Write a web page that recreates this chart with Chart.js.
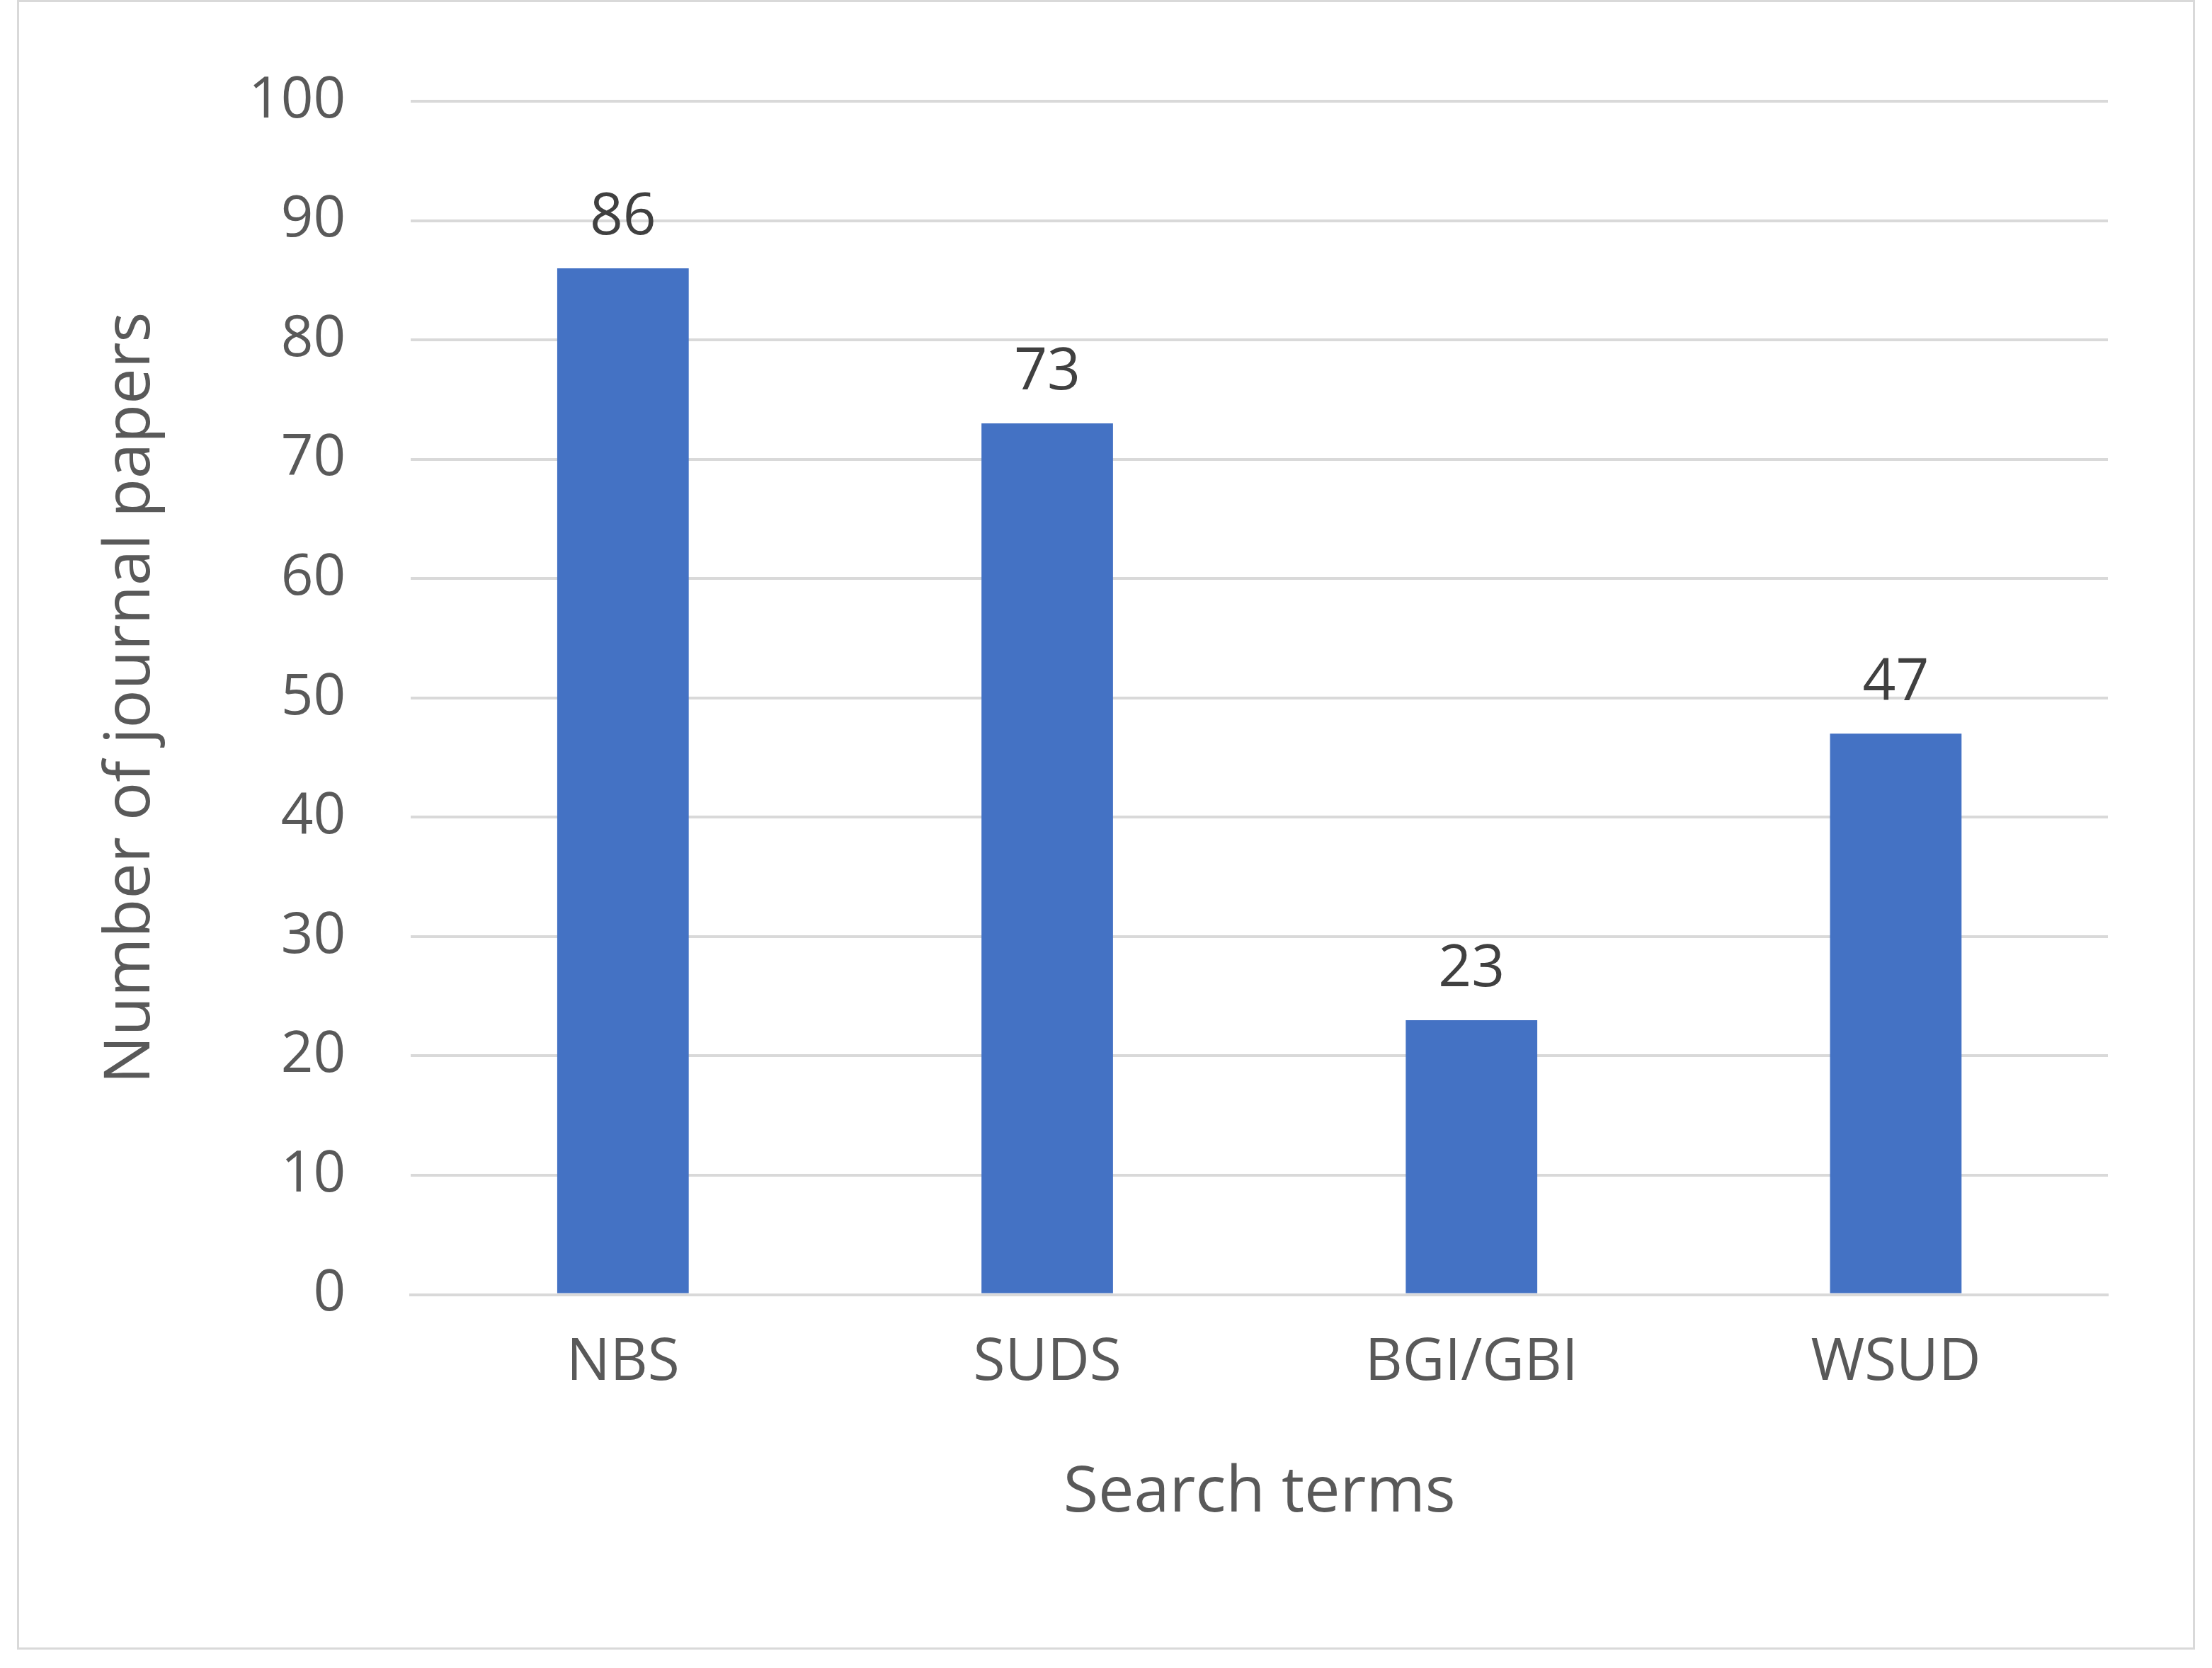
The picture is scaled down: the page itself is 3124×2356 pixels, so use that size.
<!DOCTYPE html>
<html>
<head>
<meta charset="utf-8">
<script src="https://cdn.jsdelivr.net/npm/chart.js@4/dist/chart.umd.min.js"></script>
<style>
  html, body { margin: 0; padding: 0; background: #fff; }
  #wrap { position: absolute; left: 24px; top: 0; width: 3076px; height: 2330px; border: 3px solid #d9d9d9; box-sizing: border-box; }
</style>
</head>
<body>
<div id="wrap"><canvas id="chart"></canvas></div>
<script>
const categories = ["NBS", "SUDS", "BGI/GBI", "WSUD"];
const papers = [86, 73, 23, 47];

// etiquetas de valor acima das barras
const valueLabels = {
  id: "valueLabels",
  afterDatasetsDraw(chart) {
    const ctx = chart.ctx;
    ctx.save();
    ctx.font = "82px 'Open Sans', sans-serif";
    ctx.fillStyle = "#404040";
    ctx.textAlign = "center";
    ctx.textBaseline = "bottom";
    chart.getDatasetMeta(0).data.forEach((bar, i) => {
      ctx.fillText(papers[i], bar.x, bar.y - 30);
    });
    ctx.restore();
  }
};

const textColor = "#595959";

new Chart(document.getElementById("chart").getContext("2d"), {
  type: "bar",
  data: {
    labels: categories,
    datasets: [{
      label: "Number of journal papers",
      data: papers,
      backgroundColor: "#4472C4",
      categoryPercentage: 1,
      barPercentage: 0.31
    }]
  },
  options: {
    responsive: true,
    maintainAspectRatio: false,
    animation: false,
    layout: { padding: { top: 110, right: 120, bottom: 160, left: 100 } },
    plugins: { legend: { display: false }, tooltip: { enabled: false } },
    scales: {
      x: {
        grid: { display: false },
        border: { color: "#d9d9d9", width: 4 },
        ticks: { color: textColor, font: { size: 82, family: "'Open Sans', sans-serif" }, padding: 40 },
        title: { display: true, text: "Search terms", color: textColor, font: { size: 90, family: "'Open Sans', sans-serif" }, padding: { top: 40 } }
      },
      y: {
        min: 0,
        max: 100,
        ticks: { stepSize: 10, color: textColor, font: { size: 80, family: "'Open Sans', sans-serif" }, padding: 92 },
        grid: { color: "#d9d9d9", lineWidth: 4, drawTicks: false },
        border: { display: false },
        title: { display: true, text: "Number of journal papers", color: textColor, font: { size: 90, family: "'Open Sans', sans-serif" }, padding: { bottom: 20 } }
      }
    }
  },
  plugins: [valueLabels]
});
</script>
</body>
</html>
